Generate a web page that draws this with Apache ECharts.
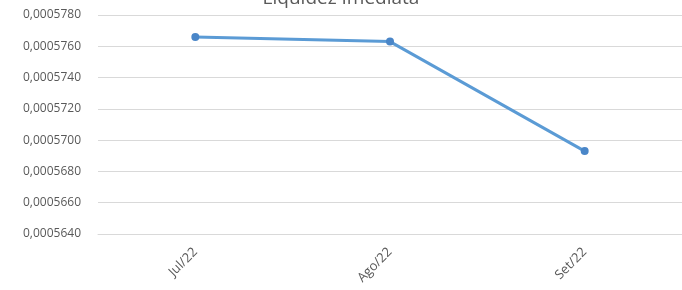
<!DOCTYPE html>
<html lang="pt">
<head>
    <meta charset="UTF-8">
    <title>Liquidez Imediata</title>
    <script src="https://cdn.jsdelivr.net/npm/echarts@6/dist/echarts.min.js"></script>
    <style>
        html, body { margin: 0; padding: 0; background: #fff; }
    </style>
</head>
<body>
    <div id="main" style="width: 682px; height: 290px"></div>
    <script>
        var meses = ['Jul/22', 'Ago/22', 'Set/22'];
        var liquidez = [0.0005766, 0.0005763, 0.0005693];

        var myChart = echarts.init(document.getElementById('main'));

        myChart.setOption({
            animation: false,
            title: {
                text: 'Liquidez Imediata',
                left: 'center',
                top: -16,
                textStyle: {
                    fontFamily: 'Open Sans',
                    fontSize: 19,
                    fontWeight: 'normal',
                    color: '#595959'
                }
            },
            grid: {
                left: 98,
                right: 0,
                top: 15,
                bottom: 56
            },
            xAxis: {
                type: 'category',
                data: meses,
                boundaryGap: true,
                axisLine: { lineStyle: { color: '#d9d9d9' } },
                axisTick: { show: false },
                axisLabel: {
                    rotate: 45,
                    margin: 16,
                    fontFamily: 'Open Sans',
                    fontSize: 13,
                    color: '#595959'
                }
            },
            yAxis: {
                type: 'value',
                min: 0.000564,
                max: 0.000578,
                interval: 0.000002,
                axisLine: { show: false },
                axisTick: { show: false },
                splitLine: { lineStyle: { color: '#d9d9d9', width: 1 } },
                axisLabel: {
                    margin: 17,
                    fontFamily: 'Open Sans',
                    fontSize: 12,
                    color: '#595959',
                    formatter: function (v) {
                        return v.toFixed(7).replace('.', ',');
                    }
                }
            },
            series: [{
                name: 'Liquidez Imediata',
                type: 'line',
                data: liquidez,
                symbol: 'circle',
                symbolSize: 8,
                lineStyle: { color: '#5b9bd5', width: 3 },
                itemStyle: { color: '#4a86c8' }
            }]
        });
    </script>
</body>
</html>
